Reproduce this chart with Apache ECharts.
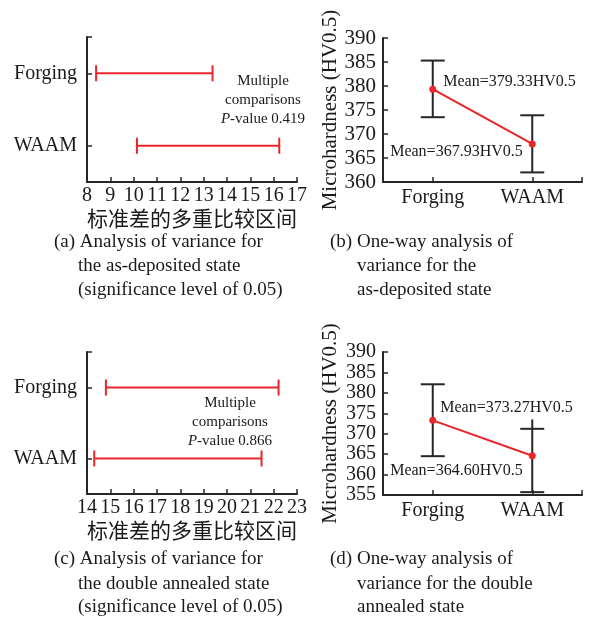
<!DOCTYPE html>
<html>
<head>
<meta charset="utf-8">
<script src="https://cdn.jsdelivr.net/npm/echarts@6/dist/echarts.min.js"></script>
<style>html,body{margin:0;padding:0;background:#fff}#c{width:597px;height:619px}</style>
</head>
<body>
<div id="c"></div>
<script>
// ---- data ----
const groups = ['Forging', 'WAAM'];
// (a) as-deposited: multiple comparison intervals of standard deviation
const ciA_low = [8.39, 10.14];
const ciA_high = [13.38, 16.24];
const pA = '0.419';
const ticksA = [8, 17, 1];
// (c) double annealed
const ciC_low = [14.81, 14.31];
const ciC_high = [22.21, 21.48];
const pC = '0.866';
const ticksC = [14, 23, 1];
// (b) as-deposited one-way ANOVA
const meanB = [379.33, 367.93];
const errB_low = [373.5, 362.0];
const errB_high = [385.3, 373.9];
const capB_top = [385.3, 373.9];
const ticksB = [360, 390, 5];
// (d) double annealed one-way ANOVA
const meanD = [373.27, 364.60];
const errD_low = [364.5, 355.7];
const errD_high = [382.1, 373.5];
const capD_top = [382.1, 371.2];
const ticksD = [355, 390, 5];
const yName = 'Microhardness (HV0.5)';
const xNameCN = '标准差的多重比较区间';

// ---- styling ----
const SERIF = 'Liberation Serif';
const INK = '#1a1a1a';
const AX = '#262626';
const RED = '#e8262b';
const pos = groups.map((g, i) => 1 + 2 * i); // category slot positions on 0..4 scale

function axisBase() {
  return {
    axisLine: { show: true, onZero: false, lineStyle: { color: AX, width: 2 } },
    axisTick: { show: true, inside: true, length: 5, lineStyle: { color: AX, width: 1.5 } },
    splitLine: { show: false },
    axisLabel: { color: INK, fontFamily: SERIF, fontSize: 20, showMinLabel: true, showMaxLabel: true, hideOverlap: false }
  };
}
function ciX(grid, t) {
  const a = axisBase();
  return Object.assign(a, {
    type: 'value', gridIndex: grid, min: t[0], max: t[1], interval: t[2],
    axisLabel: Object.assign(a.axisLabel, { margin: 4 }),
    name: xNameCN, nameLocation: 'middle', nameGap: 26,
    nameTextStyle: { fontFamily: 'Noto Sans CJK SC', fontSize: 21, color: INK }
  });
}
function catY(grid) {
  const a = axisBase();
  a.axisTick.customValues = [0].concat(pos);
  return Object.assign(a, {
    type: 'value', gridIndex: grid, min: 0, max: 4, inverse: true,
    axisLabel: Object.assign(a.axisLabel, { margin: 10, customValues: pos, formatter: v => groups[(v - 1) / 2] })
  });
}
function catX(grid) {
  const a = axisBase();
  a.axisTick.customValues = pos.concat([4]);
  return Object.assign(a, {
    type: 'value', gridIndex: grid, min: 0, max: 4,
    axisLabel: Object.assign(a.axisLabel, { margin: 6, customValues: pos, formatter: v => groups[(v - 1) / 2] })
  });
}
function hvY(grid, t, fs) {
  const a = axisBase();
  return Object.assign(a, {
    type: 'value', gridIndex: grid, min: t[0], max: t[1], interval: t[2],
    axisLabel: Object.assign(a.axisLabel, { margin: 7, fontSize: fs, lineHeight: fs }),
    name: yName, nameLocation: 'middle', nameGap: 42,
    nameTextStyle: { fontFamily: SERIF, fontSize: 21, color: INK }
  });
}
function ciSeries(grid, lo, hi) {
  return {
    type: 'custom', xAxisIndex: grid, yAxisIndex: grid, z: 5,
    data: groups.map((g, i) => [lo[i], hi[i], pos[i]]),
    renderItem: (params, api) => {
      const p1 = api.coord([api.value(0), api.value(2)]);
      const p2 = api.coord([api.value(1), api.value(2)]);
      const h = 8, st = { stroke: RED, lineWidth: 2 };
      return { type: 'group', children: [
        { type: 'line', shape: { x1: p1[0], y1: p1[1], x2: p2[0], y2: p2[1] }, style: st },
        { type: 'line', shape: { x1: p1[0], y1: p1[1] - h, x2: p1[0], y2: p1[1] + h }, style: st },
        { type: 'line', shape: { x1: p2[0], y1: p2[1] - h, x2: p2[0], y2: p2[1] + h }, style: st }
      ] };
    }
  };
}
function errSeries(grid, lo, hi, capTop) {
  return {
    type: 'custom', xAxisIndex: grid, yAxisIndex: grid, z: 3,
    data: groups.map((g, i) => [pos[i], lo[i], hi[i], capTop[i]]),
    renderItem: (params, api) => {
      const b = api.coord([api.value(0), api.value(1)]);
      const t = api.coord([api.value(0), api.value(2)]);
      const c = api.coord([api.value(0), api.value(3)]);
      const w = 12, st = { stroke: AX, lineWidth: 2 };
      return { type: 'group', children: [
        { type: 'line', shape: { x1: b[0], y1: b[1], x2: t[0], y2: t[1] }, style: st },
        { type: 'line', shape: { x1: c[0] - w, y1: c[1], x2: c[0] + w, y2: c[1] }, style: st },
        { type: 'line', shape: { x1: b[0] - w, y1: b[1], x2: b[0] + w, y2: b[1] }, style: st }
      ] };
    }
  };
}
function meanSeries(grid, means, labelLayout) {
  return {
    type: 'line', xAxisIndex: grid, yAxisIndex: grid, z: 10,
    symbol: 'circle', symbolSize: 7,
    itemStyle: { color: RED }, lineStyle: { color: RED, width: 2 },
    data: groups.map((g, i) => ({
      value: [pos[i], means[i]],
      label: Object.assign({
        show: true, formatter: 'Mean=' + means[i].toFixed(2) + 'HV0.5',
        fontFamily: SERIF, fontSize: 16, color: INK
      }, labelLayout[i])
    }))
  };
}
function txt(text, x, y, size) {
  return { type: 'text', x: x, y: y, style: {
    text: text, fontFamily: SERIF, fontSize: size, fill: INK, verticalAlign: 'middle'
  } };
}
function note(x, y, p) {
  return { type: 'text', x: x, y: y, style: {
    text: 'Multiple\ncomparisons\n{i|P}-value ' + p,
    fontFamily: SERIF, fontSize: 15, lineHeight: 19, fill: INK, align: 'center', verticalAlign: 'top',
    rich: { i: { fontStyle: 'italic', fontFamily: SERIF, fontSize: 15 } }
  } };
}

const option = {
  animation: false,
  grid: [
    { left: 87, top: 37, width: 210, height: 145 },
    { left: 383, top: 38, width: 199, height: 144 },
    { left: 87, top: 352, width: 210, height: 142 },
    { left: 383, top: 352, width: 199, height: 143 }
  ],
  xAxis: [ciX(0, ticksA), catX(1), ciX(2, ticksC), catX(3)],
  yAxis: [catY(0), hvY(1, ticksB, 21), catY(2), hvY(3, ticksD, 20)],
  series: [
    ciSeries(0, ciA_low, ciA_high),
    errSeries(1, errB_low, errB_high, capB_top),
    meanSeries(1, meanB, [
      { position: 'right', distance: 7, offset: [0, -7] },
      { position: 'left', distance: 6, offset: [0, 8] }
    ]),
    ciSeries(2, ciC_low, ciC_high),
    errSeries(3, errD_low, errD_high, capD_top),
    meanSeries(3, meanD, [
      { position: 'right', distance: 4, offset: [0, -13] },
      { position: 'left', distance: 6, offset: [0, 15] }
    ])
  ],
  graphic: [
    note(263, 72, pA),
    note(230, 394, pC),
    txt('(a) Analysis of variance for', 54, 242, 19),
    txt('the as-deposited state', 78, 266.5, 19),
    txt('(significance level of 0.05)', 78, 290.5, 19),
    txt('(b) One-way analysis of', 330, 242, 19),
    txt('variance for the', 357, 266.5, 19),
    txt('as-deposited state', 357, 290.5, 19),
    txt('(c) Analysis of variance for', 54, 559.5, 19),
    txt('the double annealed state', 78, 584, 19),
    txt('(significance level of 0.05)', 78, 607.5, 19),
    txt('(d) One-way analysis of', 330, 559.5, 19),
    txt('variance for the double', 357, 584, 19),
    txt('annealed state', 357, 607.5, 19)
  ]
};
const chart = echarts.init(document.getElementById('c'), null, { renderer: 'canvas' });
chart.setOption(option);
</script>
</body>
</html>
